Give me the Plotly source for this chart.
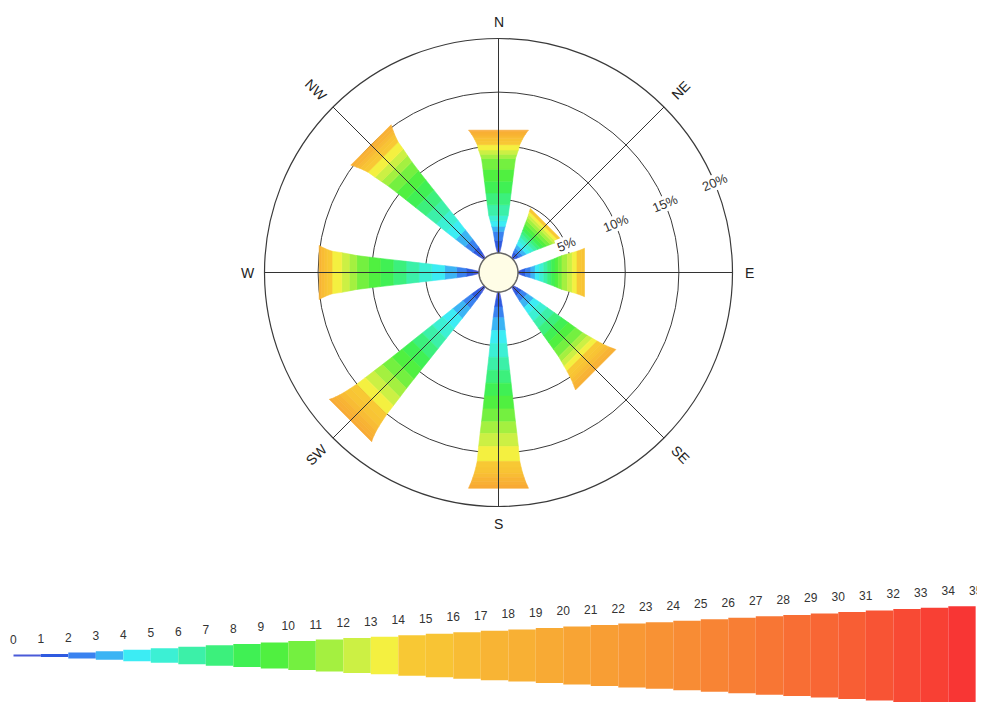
import math
import plotly.graph_objects as go

# ---------------- data ----------------
directions = ["N", "NE", "E", "SE", "S", "SW", "W", "NW"]
direction_deg = [0, 45, 90, 135, 180, 225, 270, 315]

# frequency (%) of each wind-speed class 0,1,2,... for each direction
freq_N = [0.5, 0.7, 0.8, 0.5, 0.5, 0.5, 1.0, 1.1, 1.1, 1.1, 1.0, 0.4, 0.4, 0.5,
          0.3, 0.25, 0.25, 0.2, 0.2, 0.15]
freq_NE = [0.25, 0.3, 0.35, 0.35, 0.35, 0.35, 0.3, 0.3, 0.3, 0.3, 0.3, 0.3, 0.25,
           0.25, 0.25]
freq_E = [0.3, 0.4, 0.5, 0.4, 0.4, 0.4, 0.35, 0.35, 0.35, 0.3, 0.35, 0.5, 0.45,
          0.45, 0.4, 0.3]
freq_SE = [0.4, 0.5, 0.6, 0.7, 0.7, 0.8, 0.8, 0.8, 0.8, 0.8, 0.8, 0.5, 0.5, 0.5,
           0.45, 0.4, 0.35, 0.3, 0.3]
freq_S = [0.6, 0.8, 1.0, 1.2, 1.2, 1.3, 1.2, 1.2, 1.2, 1.2, 1.2, 1.1, 1.2, 1.4,
          0.6, 0.5, 0.4, 0.4, 0.3, 0.3]
freq_SW = [0.6, 0.8, 1.0, 1.2, 1.2, 1.2, 1.2, 1.2, 1.2, 1.2, 1.1, 1.0, 1.0, 1.0,
           0.7, 0.6, 0.5, 0.4, 0.35, 0.25]
freq_W = [0.5, 0.7, 0.9, 1.1, 1.2, 1.2, 1.2, 1.2, 1.2, 1.1, 1.1, 0.7, 0.7, 0.9,
          0.4, 0.3, 0.3, 0.2]
freq_NW = [0.5, 0.7, 0.9, 1.1, 1.1, 1.2, 1.2, 1.2, 1.2, 1.1, 1.0, 0.7, 0.7, 0.8,
           0.4, 0.35, 0.3, 0.3, 0.25]

radial_ticks = [5, 10, 15, 20]
speed_classes = list(range(35))          # blocks 0..34
speed_labels = [str(i) for i in range(36)]  # tick labels 0..35

# ---------------- styles ----------------
class_colors = [
    "#4a5ad8", "#2f5ae0", "#3a82f0", "#3cb4f4", "#3cecf4", "#3cf0d4", "#3cf0a8",
    "#3cf07c", "#40f054", "#50f040", "#74f040", "#a4f040", "#ccf044", "#f4f040",
    "#f8c834", "#f8c434", "#f8bc34", "#f8b434", "#f8b034", "#f8aa34", "#f8a434",
    "#f89e34", "#f89834", "#f89234", "#f88c34", "#f88434", "#f87e34", "#f87634",
    "#f86e34", "#f86634", "#f85e34", "#f85434", "#f84a34", "#f84034", "#f83634",
]
label_rot = [0, -45, 0, 45, 0, -45, 0, 45]
FONT = "Liberation Sans, Arial, sans-serif"

FIG_W, FIG_H = 985, 702
PAGE = 8.0                 # page body margin of the html page (px)
CX, CY = 498.5 - PAGE, 272.5 - PAGE   # rose centre (figure px)
R_PX = 234.0               # outer ring radius (px)
HOLE_PX = 19.5             # centre disc radius (px)
R_MAX = radial_ticks[-1]
R0 = -R_MAX * HOLE_PX / (R_PX - HOLE_PX)
PXU = (R_PX - HOLE_PX) / R_MAX   # px per % unit
PETAL_W0, PETAL_DW = 2.0, 2.9    # petal width (px) = W0 + DW*class
LEG_DH = 2.9                     # legend block height per class (px)
LEG_X0, LEG_X1 = 13.3 - PAGE, 975.8 - PAGE
LEG_CY = 655.5 - PAGE

freqs = [freq_N, freq_NE, freq_E, freq_SE, freq_S, freq_SW, freq_W, freq_NW]

fig = go.Figure()


def to_polar(theta, v, h):
    d = HOLE_PX + v * PXU
    rp = math.hypot(d, h)
    return rp / PXU + R0, theta + math.degrees(math.atan2(h, d))


# petals
for theta, fr in zip(direction_deg, freqs):
    v0 = 0.0
    for k, f in enumerate(fr):
        v1 = v0 + f
        w0 = PETAL_W0 + PETAL_DW * k
        w1 = PETAL_W0 + PETAL_DW * (k + 1)
        corners = [(v0, -w0 / 2), (v1, -w1 / 2), (v1, w1 / 2), (v0, w0 / 2), (v0, -w0 / 2)]
        rr, tt = zip(*[to_polar(theta, v, h) for v, h in corners])
        fig.add_trace(go.Scatterpolar(
            r=list(rr), theta=list(tt), mode="lines", fill="toself",
            fillcolor=class_colors[k], line=dict(color=class_colors[k], width=0.6),
            hoverinfo="skip", showlegend=False))
        v0 = v1

# spokes on top
for theta in direction_deg:
    fig.add_trace(go.Scatterpolar(
        r=[R0, R_MAX], theta=[theta, theta], mode="lines",
        line=dict(color="#333333", width=1), hoverinfo="skip", showlegend=False))

# centre disc
circ_theta = [i * 3 for i in range(121)]
fig.add_trace(go.Scatterpolar(
    r=[0] * len(circ_theta), theta=circ_theta, mode="lines", fill="toself",
    fillcolor="#fffde6", line=dict(color="#666666", width=1.5),
    hoverinfo="skip", showlegend=False))

# legend wedge
leg_h = [max(1.5, LEG_DH * k) for k in speed_classes]
fig.add_trace(go.Bar(
    x=[k + 0.5 for k in speed_classes], y=leg_h, base=[-h / 2 for h in leg_h],
    width=1, marker=dict(color=class_colors, line=dict(width=0)),
    xaxis="x", yaxis="y", hoverinfo="skip", showlegend=False))
lab_y = [leg_h[min(i, len(leg_h) - 1)] / 2 + 14 for i in range(len(speed_labels))]
fig.add_trace(go.Scatter(
    x=list(range(len(speed_labels))), y=lab_y, text=speed_labels, mode="text",
    textfont=dict(family=FONT, size=12, color="#333333"), cliponaxis=False,
    xaxis="x", yaxis="y", hoverinfo="skip", showlegend=False))

annotations = []
# compass labels
for name, theta, rot in zip(directions, direction_deg, label_rot):
    dist = R_PX + (17 if theta % 90 == 0 else 24)
    px = CX + dist * math.sin(math.radians(theta))
    py = CY - dist * math.cos(math.radians(theta))
    annotations.append(dict(
        x=px / FIG_W, y=1 - py / FIG_H, xref="paper", yref="paper", text=name,
        showarrow=False, textangle=rot, xanchor="center", yanchor="middle",
        font=dict(family=FONT, size=14, color="#222222")))
# radial labels
LAB_ANG = 22.5
for v in radial_ticks:
    dist = HOLE_PX + v * PXU
    px = CX + dist * math.cos(math.radians(LAB_ANG))
    py = CY - dist * math.sin(math.radians(LAB_ANG))
    annotations.append(dict(
        x=px / FIG_W, y=1 - py / FIG_H, xref="paper", yref="paper", text=f"{v}%",
        showarrow=False, textangle=-LAB_ANG, xanchor="center", yanchor="middle",
        bgcolor="white", borderpad=0,
        font=dict(family=FONT, size=13, color="#333333")))

leg_dom_top = 0.19
leg_centre_from_bottom = FIG_H - LEG_CY
fig.update_layout(
    width=FIG_W, height=FIG_H, margin=dict(l=0, r=0, t=0, b=0),
    paper_bgcolor="white", plot_bgcolor="white", showlegend=False,
    polar=dict(
        domain=dict(x=[(CX - R_PX) / FIG_W, (CX + R_PX) / FIG_W],
                    y=[1 - (CY + R_PX) / FIG_H, 1 - (CY - R_PX) / FIG_H]),
        bgcolor="white",
        radialaxis=dict(range=[R0, R_MAX], tickvals=radial_ticks[:-1],
                        showticklabels=False, ticks="", showline=False,
                        showgrid=True, gridcolor="#3a3a3a", gridwidth=1.2),
        angularaxis=dict(rotation=90, direction="clockwise", showgrid=False,
                         showticklabels=False, ticks="", showline=True,
                         linecolor="#3a3a3a", linewidth=1.2),
    ),
    xaxis=dict(domain=[LEG_X0 / FIG_W, LEG_X1 / FIG_W], range=[0, 35], visible=False,
               fixedrange=True),
    yaxis=dict(domain=[0, leg_dom_top], visible=False, fixedrange=True,
               range=[-leg_centre_from_bottom, leg_dom_top * FIG_H - leg_centre_from_bottom]),
    annotations=annotations,
)

fig.write_html("out.html")
